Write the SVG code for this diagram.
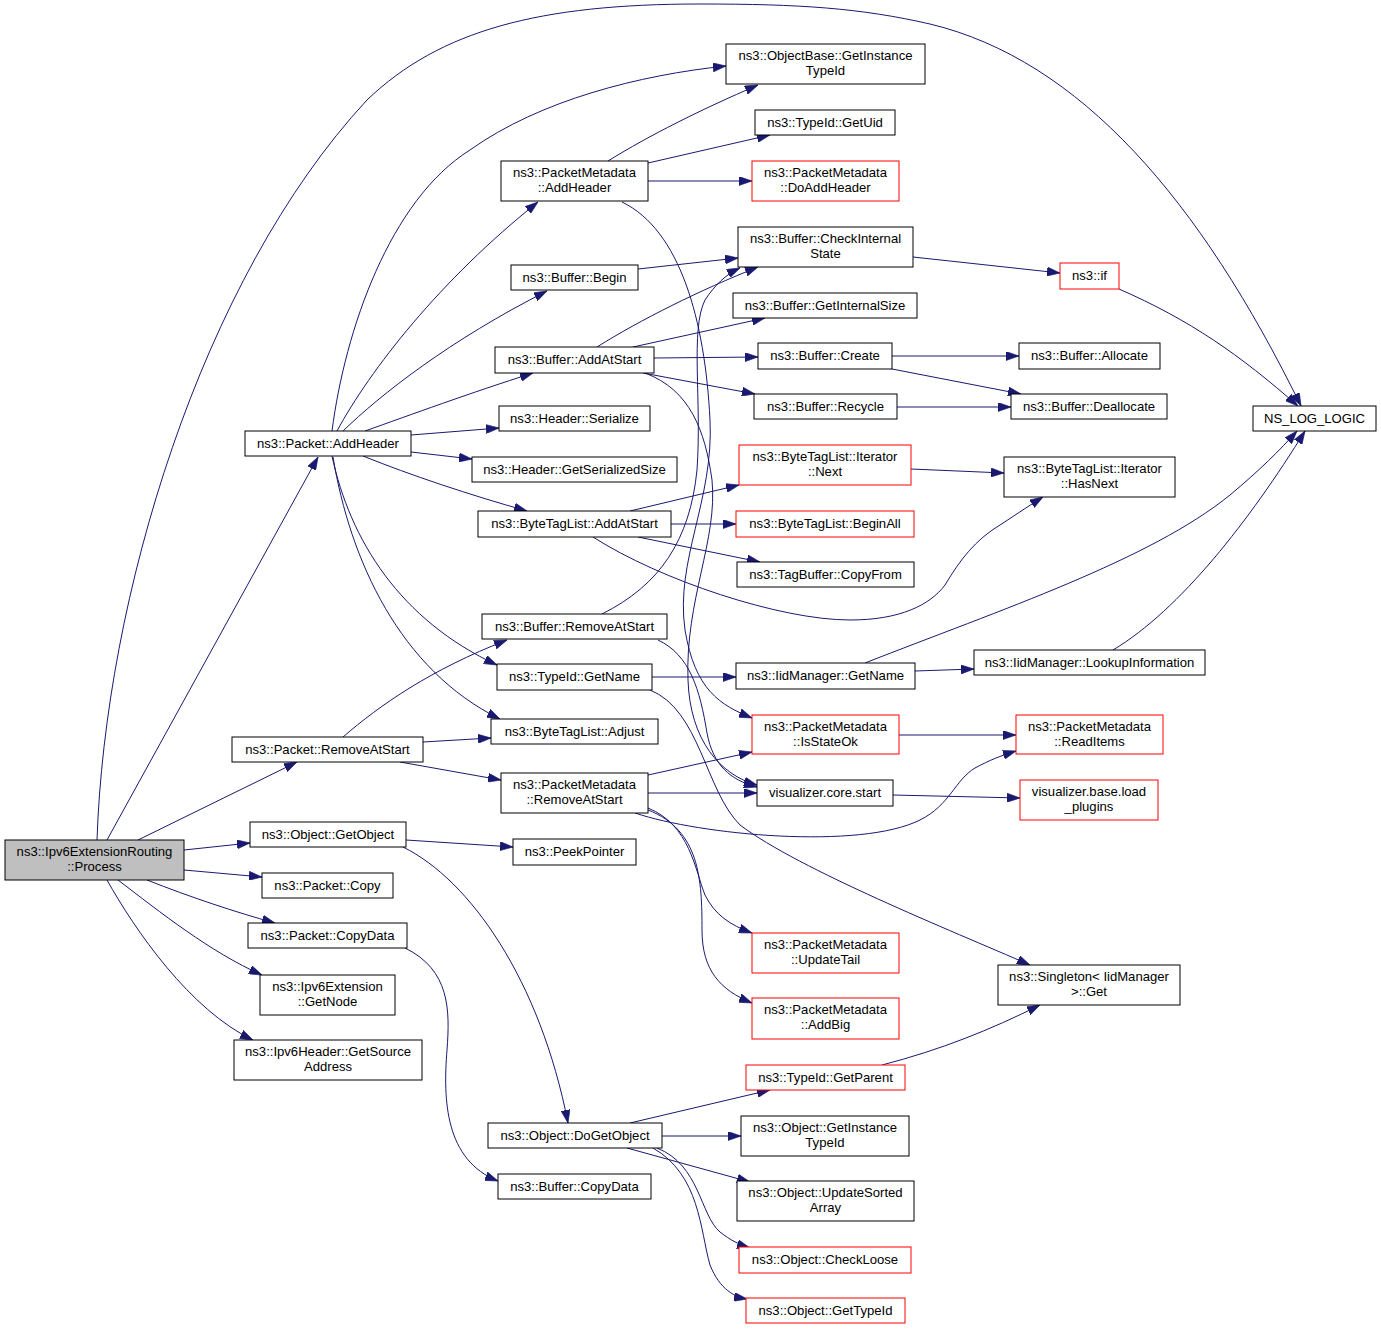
<svg xmlns="http://www.w3.org/2000/svg" width="1381" height="1329" viewBox="0 0 1381 1329">
<style>
.n rect{fill:#fff;stroke:#000;stroke-width:1}
.r rect{fill:#fff;stroke:#ff0000;stroke-width:1}
.g rect{fill:#bfbfbf;stroke:#000;stroke-width:1}
text{font-family:"Liberation Sans",Arial,Helvetica,sans-serif;font-size:13.1px;text-anchor:middle;fill:#000}
#edges path{fill:none;stroke:#191970;stroke-width:1;marker-end:url(#ah)}
</style>
<defs>
<marker id="ah" viewBox="0 0 10 7" refX="10" refY="3.5" markerWidth="13" markerHeight="9" markerUnits="userSpaceOnUse" orient="auto" preserveAspectRatio="none">
<path d="M0,0 L10,3.5 L0,7 z" fill="#191970" stroke="#191970" stroke-width="0.5"/>
</marker>
</defs>
<rect x="0" y="0" width="1381" height="1329" fill="#fff"/>
<g id="edges">
<path d="M97,840 C105,600 200,280 367,100 C440,30 540,4 700,4 C800,4 860,8 930,24 C1080,60 1200,200 1301,406"/>
<path d="M107,840 L318,457"/>
<path d="M138,840 L297,762"/>
<path d="M184,850 L250,843"/>
<path d="M184,870 L262,877"/>
<path d="M147,880 C190,897 235,912 275,923"/>
<path d="M118,880 C160,912 210,952 262,975"/>
<path d="M107,880 C135,930 190,1010 253,1040"/>
<path d="M332,431 C345,330 390,200 470,150 C540,100 640,75 726,66"/>
<path d="M337,431 C370,370 440,280 538,202"/>
<path d="M343,431 C380,395 450,340 547,291"/>
<path d="M365,431 C410,415 470,393 533,373"/>
<path d="M411,435 L499,428"/>
<path d="M411,452 L472,459"/>
<path d="M363,456 C410,475 470,495 527,511"/>
<path d="M332,456 C350,540 400,620 497,665"/>
<path d="M333,457 C350,560 400,670 500,719"/>
<path d="M343,737 C380,705 430,670 507,640"/>
<path d="M423,742 L491,738"/>
<path d="M400,762 L501,780"/>
<path d="M406,840 L513,847"/>
<path d="M403,847 C470,880 540,980 568,1123"/>
<path d="M405,948 C450,970 450,1010 447,1050 C443,1100 445,1160 498,1181"/>
<path d="M608,161 C650,135 700,110 758,85"/>
<path d="M648,163 L770,135"/>
<path d="M648,181 L752,181"/>
<path d="M622,202 C680,230 705,320 710,420 C714,500 675,560 685,630 C695,690 720,705 752,718"/>
<path d="M638,269 L738,258"/>
<path d="M597,347 C640,320 700,290 758,267"/>
<path d="M633,347 L765,318"/>
<path d="M654,358 L758,357"/>
<path d="M643,373 L755,394"/>
<path d="M645,373 C690,390 705,430 712,480 C718,540 685,600 688,680 C690,740 720,775 757,785"/>
<path d="M913,257 L1060,273"/>
<path d="M1119,289 C1190,320 1240,355 1298,406"/>
<path d="M892,356 L1019,356"/>
<path d="M892,369 L1021,394"/>
<path d="M897,407 L1011,407"/>
<path d="M630,511 L739,485"/>
<path d="M671,524 L736,524"/>
<path d="M638,537 L760,562"/>
<path d="M593,537 C660,580 780,620 850,620 C900,620 930,605 945,585 C960,560 975,540 1000,525 C1020,512 1030,505 1043,497"/>
<path d="M911,469 L1004,473"/>
<path d="M865,663 C1000,610 1150,560 1230,495 C1260,470 1280,450 1297,431"/>
<path d="M915,671 L974,669"/>
<path d="M1113,650 C1180,610 1250,520 1305,431"/>
<path d="M652,677 L736,677"/>
<path d="M650,690 C700,710 705,790 740,825 C800,870 950,930 1030,965"/>
<path d="M602,614 C660,585 690,540 697,470 C702,400 690,330 705,300 C715,285 725,275 740,268"/>
<path d="M658,640 C690,655 700,690 707,733 C713,765 730,780 757,787"/>
<path d="M648,775 L752,752"/>
<path d="M648,793 L757,793"/>
<path d="M635,813 C700,835 860,850 920,820 C950,805 955,780 975,768 C990,760 1000,756 1016,751"/>
<path d="M648,808 C690,825 695,870 705,895 C715,915 730,925 752,933"/>
<path d="M648,810 C700,830 702,880 702,930 C702,970 720,990 752,1003"/>
<path d="M893,795 L1020,798"/>
<path d="M899,735 L1016,735"/>
<path d="M882,1065 C940,1050 990,1030 1040,1005"/>
<path d="M630,1123 L770,1090"/>
<path d="M662,1136 L741,1136"/>
<path d="M627,1148 L750,1182"/>
<path d="M657,1148 C700,1165 700,1215 720,1232 C730,1240 740,1245 750,1248"/>
<path d="M653,1148 C700,1175 700,1230 710,1265 C720,1290 735,1297 747,1299"/>
</g>
<g id="n0" class="g"><rect x="5" y="840" width="179" height="40"/><text x="94.5" y="856">ns3::Ipv6ExtensionRouting</text><text x="94.5" y="870.5">::Process</text></g>
<g id="n1" class="n"><rect x="245" y="431" width="166" height="25"/><text x="328" y="447.5">ns3::Packet::AddHeader</text></g>
<g id="n2" class="n"><rect x="232" y="737" width="191" height="25"/><text x="327.5" y="753.5">ns3::Packet::RemoveAtStart</text></g>
<g id="n3" class="n"><rect x="250" y="822" width="156" height="25"/><text x="328" y="838.5">ns3::Object::GetObject</text></g>
<g id="n4" class="n"><rect x="262" y="873" width="131" height="25"/><text x="327.5" y="889.5">ns3::Packet::Copy</text></g>
<g id="n5" class="n"><rect x="248" y="923" width="159" height="25"/><text x="327.5" y="939.5">ns3::Packet::CopyData</text></g>
<g id="n6" class="n"><rect x="260" y="975" width="135" height="40"/><text x="327.5" y="991">ns3::Ipv6Extension</text><text x="327.5" y="1005.5">::GetNode</text></g>
<g id="n7" class="n"><rect x="234" y="1040" width="188" height="40"/><text x="328" y="1056">ns3::Ipv6Header::GetSource</text><text x="328" y="1070.5">Address</text></g>
<g id="n8" class="n"><rect x="726" y="44" width="199" height="40"/><text x="825.5" y="60">ns3::ObjectBase::GetInstance</text><text x="825.5" y="74.5">TypeId</text></g>
<g id="n9" class="n"><rect x="755" y="110" width="140" height="25"/><text x="825" y="126.5">ns3::TypeId::GetUid</text></g>
<g id="n10" class="n"><rect x="501" y="161" width="147" height="40"/><text x="574.5" y="177">ns3::PacketMetadata</text><text x="574.5" y="191.5">::AddHeader</text></g>
<g id="n11" class="r"><rect x="752" y="161" width="147" height="40"/><text x="825.5" y="177">ns3::PacketMetadata</text><text x="825.5" y="191.5">::DoAddHeader</text></g>
<g id="n12" class="n"><rect x="738" y="227" width="175" height="40"/><text x="825.5" y="243">ns3::Buffer::CheckInternal</text><text x="825.5" y="257.5">State</text></g>
<g id="n13" class="n"><rect x="511" y="265" width="127" height="25"/><text x="574.5" y="281.5">ns3::Buffer::Begin</text></g>
<g id="n14" class="n"><rect x="733" y="293" width="184" height="25"/><text x="825" y="309.5">ns3::Buffer::GetInternalSize</text></g>
<g id="n15" class="n"><rect x="495" y="347" width="159" height="26"/><text x="574.5" y="364">ns3::Buffer::AddAtStart</text></g>
<g id="n16" class="n"><rect x="758" y="343" width="134" height="26"/><text x="825" y="360">ns3::Buffer::Create</text></g>
<g id="n17" class="n"><rect x="754" y="394" width="143" height="25"/><text x="825.5" y="410.5">ns3::Buffer::Recycle</text></g>
<g id="n18" class="n"><rect x="499" y="406" width="151" height="25"/><text x="574.5" y="422.5">ns3::Header::Serialize</text></g>
<g id="n19" class="r"><rect x="1060" y="263" width="59" height="26"/><text x="1089.5" y="280">ns3::if</text></g>
<g id="n20" class="n"><rect x="1019" y="343" width="141" height="26"/><text x="1089.5" y="360">ns3::Buffer::Allocate</text></g>
<g id="n21" class="n"><rect x="1011" y="394" width="156" height="25"/><text x="1089" y="410.5">ns3::Buffer::Deallocate</text></g>
<g id="n22" class="n"><rect x="1253" y="406" width="123" height="25"/><text x="1314.5" y="422.5">NS_LOG_LOGIC</text></g>
<g id="n23" class="n"><rect x="472" y="457" width="205" height="25"/><text x="574.5" y="473.5">ns3::Header::GetSerializedSize</text></g>
<g id="n24" class="r"><rect x="739" y="445" width="172" height="40"/><text x="825" y="461">ns3::ByteTagList::Iterator</text><text x="825" y="475.5">::Next</text></g>
<g id="n25" class="n"><rect x="478" y="511" width="193" height="26"/><text x="574.5" y="528">ns3::ByteTagList::AddAtStart</text></g>
<g id="n26" class="r"><rect x="736" y="511" width="178" height="26"/><text x="825" y="528">ns3::ByteTagList::BeginAll</text></g>
<g id="n27" class="n"><rect x="737" y="562" width="177" height="25"/><text x="825.5" y="578.5">ns3::TagBuffer::CopyFrom</text></g>
<g id="n28" class="n"><rect x="482" y="614" width="185" height="25"/><text x="574.5" y="630.5">ns3::Buffer::RemoveAtStart</text></g>
<g id="n29" class="n"><rect x="497" y="664" width="155" height="26"/><text x="574.5" y="681">ns3::TypeId::GetName</text></g>
<g id="n30" class="n"><rect x="736" y="663" width="179" height="26"/><text x="825.5" y="680">ns3::IidManager::GetName</text></g>
<g id="n31" class="n"><rect x="491" y="719" width="167" height="25"/><text x="574.5" y="735.5">ns3::ByteTagList::Adjust</text></g>
<g id="n32" class="r"><rect x="752" y="715" width="147" height="39"/><text x="825.5" y="731">ns3::PacketMetadata</text><text x="825.5" y="745.5">::IsStateOk</text></g>
<g id="n33" class="n"><rect x="501" y="773" width="147" height="40"/><text x="574.5" y="789">ns3::PacketMetadata</text><text x="574.5" y="803.5">::RemoveAtStart</text></g>
<g id="n34" class="n"><rect x="757" y="780" width="136" height="26"/><text x="825" y="797">visualizer.core.start</text></g>
<g id="n35" class="n"><rect x="513" y="839" width="123" height="26"/><text x="574.5" y="856">ns3::PeekPointer</text></g>
<g id="n36" class="n"><rect x="1004" y="457" width="171" height="40"/><text x="1089.5" y="473">ns3::ByteTagList::Iterator</text><text x="1089.5" y="487.5">::HasNext</text></g>
<g id="n37" class="n"><rect x="974" y="650" width="231" height="25"/><text x="1089.5" y="666.5">ns3::IidManager::LookupInformation</text></g>
<g id="n38" class="r"><rect x="1016" y="715" width="147" height="39"/><text x="1089.5" y="731">ns3::PacketMetadata</text><text x="1089.5" y="745.5">::ReadItems</text></g>
<g id="n39" class="r"><rect x="1020" y="780" width="138" height="40"/><text x="1089" y="796">visualizer.base.load</text><text x="1089" y="810.5">_plugins</text></g>
<g id="n40" class="r"><rect x="752" y="933" width="147" height="40"/><text x="825.5" y="949">ns3::PacketMetadata</text><text x="825.5" y="963.5">::UpdateTail</text></g>
<g id="n41" class="r"><rect x="752" y="998" width="147" height="41"/><text x="825.5" y="1014">ns3::PacketMetadata</text><text x="825.5" y="1028.5">::AddBig</text></g>
<g id="n42" class="r"><rect x="746" y="1065" width="159" height="25"/><text x="825.5" y="1081.5">ns3::TypeId::GetParent</text></g>
<g id="n43" class="n"><rect x="488" y="1123" width="174" height="25"/><text x="575" y="1139.5">ns3::Object::DoGetObject</text></g>
<g id="n44" class="n"><rect x="741" y="1116" width="168" height="40"/><text x="825" y="1132">ns3::Object::GetInstance</text><text x="825" y="1146.5">TypeId</text></g>
<g id="n45" class="n"><rect x="498" y="1174" width="153" height="25"/><text x="574.5" y="1190.5">ns3::Buffer::CopyData</text></g>
<g id="n46" class="n"><rect x="737" y="1181" width="177" height="40"/><text x="825.5" y="1197">ns3::Object::UpdateSorted</text><text x="825.5" y="1211.5">Array</text></g>
<g id="n47" class="r"><rect x="739" y="1247" width="172" height="26"/><text x="825" y="1264">ns3::Object::CheckLoose</text></g>
<g id="n48" class="r"><rect x="746" y="1298" width="159" height="25"/><text x="825.5" y="1314.5">ns3::Object::GetTypeId</text></g>
<g id="n49" class="n"><rect x="998" y="965" width="182" height="40"/><text x="1089" y="981">ns3::Singleton&lt; IidManager</text><text x="1089" y="995.5">&gt;::Get</text></g>
</svg>
